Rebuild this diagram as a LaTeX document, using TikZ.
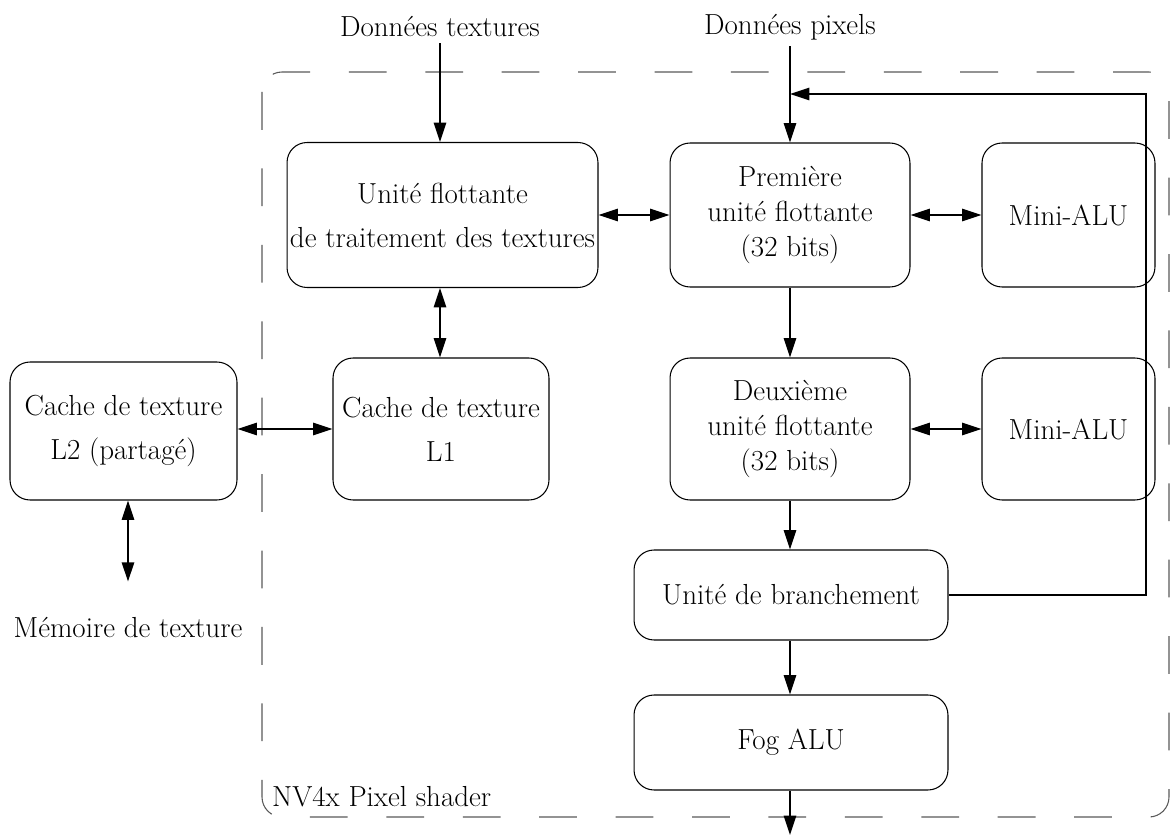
\documentclass[tikz,border=0pt]{standalone}
\usetikzlibrary{arrows.meta}

\tikzset{
    bloc/.style={draw, rounded corners=0.4cm, align=center, line width=0.6pt},
    fleche/.style={-{Triangle[length=11pt,width=7pt]}, line width=1.1pt},
    dfleche/.style={{Triangle[length=11pt,width=7pt]}-{Triangle[length=11pt,width=7pt]}, line width=1.1pt},
}

\begin{document}
\begin{tikzpicture}[x=0.02cm, y=-0.02cm, font=\fontsize{16.5}{20}\selectfont]
    \useasboundingbox (0,0) rectangle (1171,835);
    % cadre du pixel shader
    \draw[gray!70!black, dash pattern=on 21.5pt off 22pt, rounded corners=0.4cm, line width=0.6pt]
        (262,72) rectangle (1169,817);
    \node[anchor=west] (nom) at (266,797) {NV4x Pixel shader};

    \node (texin) at (440,27) {Données textures};
    \node (pixin) at (790,27) {Données pixels};

    \node[bloc, inner xsep=0pt, minimum width=6.22cm, minimum height=2.9cm] (tex) at (442.5,215)
        {Unité flottante\\[5pt] de traitement des textures};
    \node[bloc, minimum width=4.8cm, minimum height=2.88cm] (fpa) at (790,215)
        {Première\\ unité flottante\\ (32 bits)};
    \node[bloc, minimum width=3.46cm, minimum height=2.88cm] (alua) at (1068.5,215) {Mini-ALU};
    \node[bloc, minimum width=4.32cm, minimum height=2.84cm] (cacheun) at (441,429)
        {Cache de texture\\[5pt] L1};
    \node[bloc, minimum width=4.8cm, minimum height=2.84cm] (fpb) at (790,429)
        {Deuxième\\ unité flottante\\ (32 bits)};
    \node[bloc, minimum width=3.46cm, minimum height=2.84cm] (alub) at (1068.5,429) {Mini-ALU};
    \node[bloc, minimum width=4.54cm, minimum height=2.76cm] (cachedeux) at (123.5,431)
        {Cache de texture\\[5pt] L2 (partagé)};
    \node[bloc, minimum width=6.28cm, minimum height=1.8cm] (branche) at (791,595) {Unité de branchement};
    \node[bloc, minimum width=6.28cm, minimum height=1.9cm] (fog) at (791,742.5) {Fog ALU};
    \node (mem) at (128,628) {Mémoire de texture};

    \coordinate (jonction) at (790,94);
    \coordinate (coin) at (1146,94);
    \coordinate (sortie) at (790,835);

    % entrees
    \draw[fleche] (texin.south) -- (texin.south |- tex.north);
    \draw[fleche] (pixin.south) -- (pixin.south |- fpa.north);
    % echanges
    \draw[dfleche] (tex) -- (fpa);
    \draw[dfleche] (fpa) -- (alua);
    \draw[dfleche] (fpb) -- (alub);
    \draw[dfleche] (tex.south -| texin) -- (cacheun.north -| texin);
    \draw[dfleche] (cachedeux.east |- cacheun) -- (cacheun.west);
    \draw[dfleche] ([yshift=0.6cm]mem.north) -- (mem.north |- cachedeux.south);
    % pipeline
    \draw[fleche] (fpa) -- (fpb);
    \draw[fleche] (fpb.south -| fpa) -- (branche.north -| fpa);
    \draw[fleche] (branche.south -| fpa) -- (fog.north -| fpa);
    \draw[fleche] (fog.south -| fpa) -- (sortie);
    % rebouclage
    \draw[fleche] (branche.east) -| (coin) -- (jonction);
\end{tikzpicture}
\end{document}
